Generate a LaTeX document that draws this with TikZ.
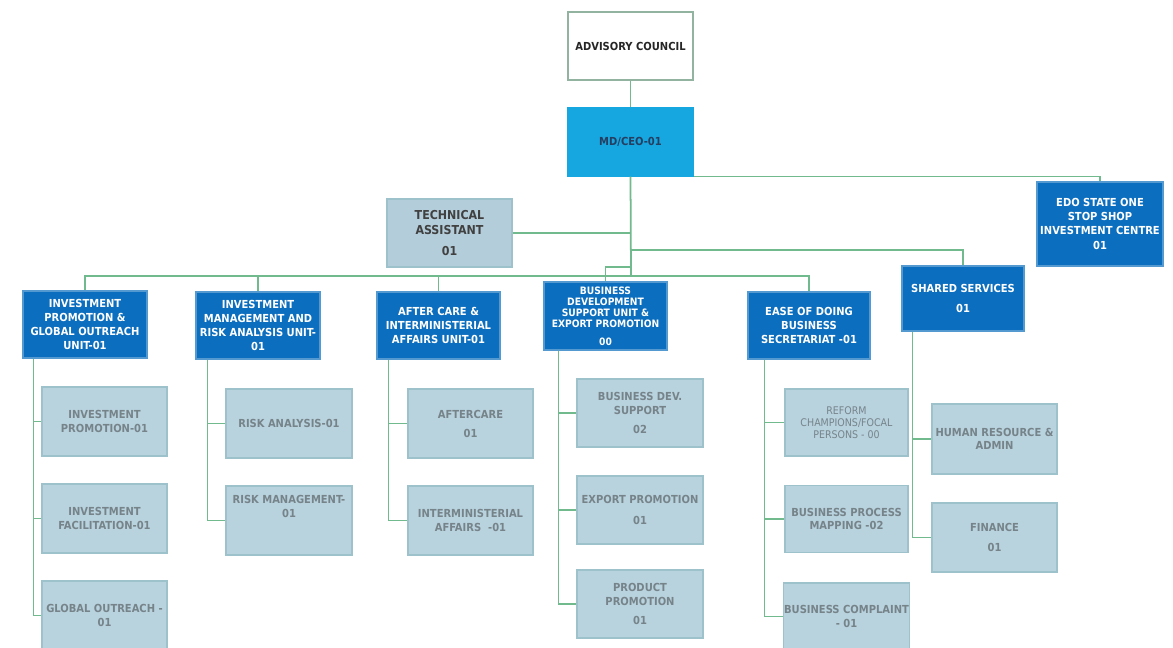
\documentclass[tikz,border=0pt]{standalone}
\usepackage{fontspec}
\setmainfont{DejaVu Sans Condensed}
\usetikzlibrary{positioning,calc}
\definecolor{linkgreen}{RGB}{112,186,142}
\definecolor{unitblue}{RGB}{12,110,190}
\definecolor{ceoblue}{RGB}{22,166,224}
\definecolor{ceotext}{RGB}{38,62,96}
\definecolor{tafill}{RGB}{180,205,218}
\definecolor{subfill}{RGB}{184,210,222}
\definecolor{subedge}{RGB}{158,194,204}
\definecolor{subtext}{RGB}{118,132,138}
\tikzset{every picture/.style={line width=0.75pt}}
\tikzset{
  box/.style={rectangle, draw, align=center, inner sep=0.5pt,
    minimum width=2.5cm, minimum height=1.36cm,
    font=\fontsize{6.3}{7.8}\selectfont\bfseries},
  topbox/.style={box, fill=white, draw=linkgreen!55!gray!80, text=black!85},
  ceobox/.style={box, fill=ceoblue, draw=ceoblue, text=ceotext},
  tabox/.style={box, fill=tafill, draw=subedge, text=black!75,
    font=\fontsize{7}{8.6}\selectfont\bfseries},
  unitbox/.style={box, fill=unitblue, draw=unitblue!70!white, text=white},
  subbox/.style={box, fill=subfill, draw=subedge, text=subtext},
  link/.style={draw=linkgreen, line width=0.8pt},
}

\begin{document}
\begin{tikzpicture}[x=0.02cm,y=-0.02cm]
    \useasboundingbox (0,0) rectangle (1173,647);
    \clip (0,0) rectangle (1173,647);

    \node[topbox] (adv) at (630.5,46) {ADVISORY COUNCIL};
    \node[ceobox] (ceo) at (630.5,142) {MD/CEO-01};
    \node[tabox] (ta) at (449.5,233) {TECHNICAL\\ASSISTANT\\[3pt]01};
    \node[unitbox, minimum width=2.52cm, minimum height=1.68cm] (edo) at (1100,224) {EDO STATE ONE\\STOP SHOP\\INVESTMENT CENTRE\\[1pt]01};
    \node[unitbox, minimum width=2.44cm, minimum height=1.3cm] (ss) at (963,298.5) {SHARED SERVICES\\[4pt]01};

    \node[unitbox, minimum width=2.48cm, minimum height=1.34cm] (ipgo) at (85,324.5) {INVESTMENT\\PROMOTION \&\\GLOBAL OUTREACH\\UNIT-01};
    \node[unitbox, minimum width=2.48cm, minimum height=1.34cm] (imra) at (258,325.5) {INVESTMENT\\MANAGEMENT AND\\RISK ANALYSIS UNIT-\\01};
    \node[unitbox, minimum width=2.46cm, minimum height=1.34cm] (acia) at (438.5,325.5) {AFTER CARE \&\\INTERMINISTERIAL\\AFFAIRS UNIT-01};
    \node[unitbox, minimum width=2.46cm, font=\fontsize{5.8}{6.3}\selectfont\bfseries] (bds) at (605.5,316) {BUSINESS\\DEVELOPMENT\\SUPPORT UNIT \&\\EXPORT PROMOTION\\[4pt]00};
    \node[unitbox, minimum width=2.44cm, minimum height=1.34cm] (eodb) at (809,325.5) {EASE OF DOING\\BUSINESS\\SECRETARIAT -01};

    \node[subbox, minimum height=1.38cm] (ipp) at (104.5,421.5) {INVESTMENT\\PROMOTION-01};
    \node[subbox, minimum height=1.38cm] (ifa) at (104.5,518.5) {INVESTMENT\\FACILITATION-01};
    \node[subbox, minimum height=1.38cm] (gout) at (104.5,615.5) {GLOBAL OUTREACH -\\01};

    \node[subbox, minimum width=2.52cm, minimum height=1.38cm] (ran) at (289,423.5) {RISK ANALYSIS-01};
    \node[subbox, minimum width=2.52cm, minimum height=1.38cm] (rman) at (289,520.5) {RISK MANAGEMENT-\\01\\[8pt]};

    \node[subbox, minimum height=1.38cm] (aftc) at (470.5,423.5) {AFTERCARE\\[3pt]01};
    \node[subbox, minimum height=1.38cm] (inaf) at (470.5,520.5) {INTERMINISTERIAL\\AFFAIRS~~-01};

    \node[subbox, minimum width=2.52cm] (bdsu) at (640,413) {BUSINESS DEV.\\SUPPORT\\[3pt]02};
    \node[subbox, minimum width=2.52cm] (expp) at (640,510) {EXPORT PROMOTION\\[4pt]01};
    \node[subbox, minimum width=2.52cm] (prop) at (640,604) {PRODUCT\\PROMOTION\\[3pt]01};

    \node[subbox, minimum width=2.46cm, minimum height=1.34cm, font=\fontsize{6}{6.8}\selectfont] (rcfp) at (846.5,422.5) {REFORM\\CHAMPIONS/FOCAL\\PERSONS - 00};
    \node[subbox, minimum width=2.46cm, minimum height=1.34cm] (bpm) at (846.5,519) {BUSINESS PROCESS\\MAPPING -02};
    \node[subbox, minimum width=2.46cm, minimum height=1.34cm] (bcom) at (846.5,616.5) {BUSINESS COMPLAINT\\- 01};

    \node[subbox, minimum height=1.4cm] (hra) at (994.5,439) {HUMAN RESOURCE \&\\ADMIN};
    \node[subbox, minimum height=1.38cm] (fin) at (994.5,537.5) {FINANCE\\[4pt]01};

    \coordinate (bus) at (631,276);
    \coordinate (jss) at (631,250);
    \coordinate (jbds) at (631,267);

    \draw[link] (adv) -- (ceo);
    \draw[link, line width=1pt] (ceo.south) -- (bus);
    \draw[link] (ta.east) -- (ta.east -| ceo.south);
    \draw[link] (ceo.south east) -| (edo.north);
    \draw[link] (jss) -| (ss.north);
    \draw[link] (jbds) -| (bds.north);
    \foreach \u in {ipgo,imra,acia,eodb}
        \draw[link, line width=1pt] (bus) -| (\u.north);

    \foreach \u/\s/\d in {ipgo/ipp/2.2mm, ipgo/ifa/2.2mm, ipgo/gout/2.2mm,
                          imra/ran/2.4mm, imra/rman/2.4mm,
                          acia/aftc/2.4mm, acia/inaf/2.4mm,
                          bds/bdsu/3mm, bds/expp/3mm, bds/prop/3mm,
                          eodb/rcfp/3.4mm, eodb/bpm/3.4mm, eodb/bcom/3.4mm,
                          ss/hra/2.2mm, ss/fin/2.2mm}
        \draw[link] ([xshift=\d]\u.south west) |- (\s.west);
\end{tikzpicture}
\end{document}
